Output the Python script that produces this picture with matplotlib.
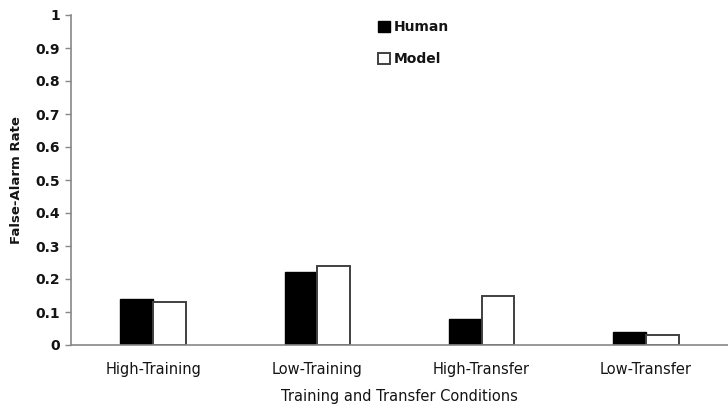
import matplotlib
matplotlib.use("Agg")
import matplotlib.pyplot as plt
import numpy as np

categories = ["High-Training", "Low-Training", "High-Transfer", "Low-Transfer"]
human = [0.14, 0.22, 0.08, 0.04]
model = [0.13, 0.24, 0.15, 0.03]
yticks = [0, 0.1, 0.2, 0.3, 0.4, 0.5, 0.6, 0.7, 0.8, 0.9, 1]
ytick_labels = ["0", "0.1", "0.2", "0.3", "0.4", "0.5", "0.6", "0.7", "0.8", "0.9", "1"]

txt = "#141414"
fig = plt.figure(figsize=(7.28, 4.05), dpi=100)
ax = fig.add_axes([71/728, 1-345/405, 657/728, 330/405])

x = np.arange(len(categories))
w = 0.2
ax.bar(x - w/2, human, w, color="black", edgecolor="black", linewidth=1.0, label="Human")
ax.bar(x + w/2, model, w, color="white", edgecolor="#404040", linewidth=1.4, label="Model")

ax.set_xlim(-0.5, 3.5)
ax.set_ylim(0, 1)
ax.set_yticks(yticks)
ax.set_yticklabels(ytick_labels, fontsize=10, fontweight="bold", color=txt)
ax.set_xticks(x)
ax.set_xticklabels(categories, fontsize=10.5, color=txt)
ax.tick_params(axis="x", length=0, pad=12)
ax.tick_params(axis="y", length=4, color="#888888", width=1, pad=4)

for s in ["top", "right"]:
    ax.spines[s].set_visible(False)
for s in ["left", "bottom"]:
    ax.spines[s].set_color("#888888")
    ax.spines[s].set_linewidth(1.2)

ax.set_ylabel("False-Alarm Rate", fontsize=9.5, fontweight="bold", color=txt, labelpad=9)
ax.set_xlabel("Training and Transfer Conditions", fontsize=10.5, color=txt, labelpad=9)

leg = ax.legend(loc="upper left", bbox_to_anchor=((378-71)/657, 0.985), frameon=False,
                borderaxespad=0, borderpad=0,
                handlelength=0.85, handleheight=0.85, handletextpad=0.3,
                labelspacing=1.3, fontsize=10)
for t in leg.get_texts():
    t.set_color(txt)
    t.set_fontweight("bold")

fig.savefig("out.png", dpi=100)
